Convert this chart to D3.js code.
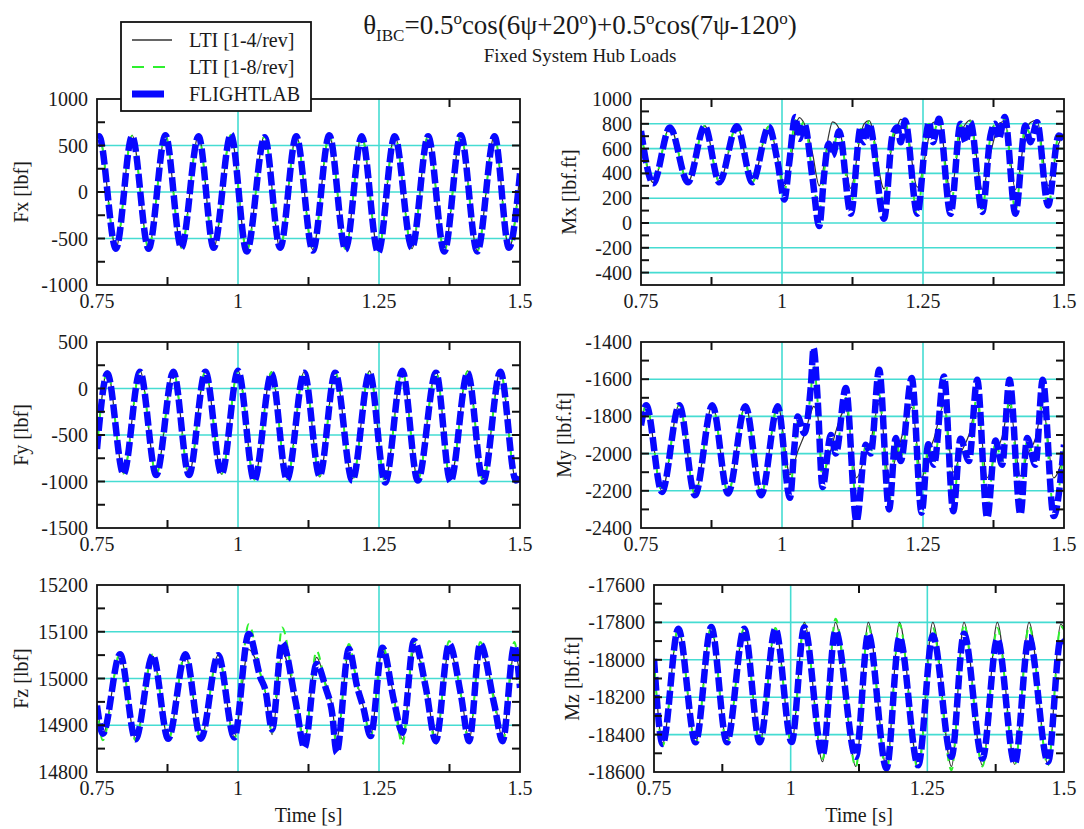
<!DOCTYPE html>
<html><head><meta charset="utf-8">
<script src="https://cdn.jsdelivr.net/npm/d3@7"></script>
<style>
html,body{margin:0;padding:0;background:#fff;}
text{font-family:"Liberation Serif","Times New Roman",serif;fill:#1a1a1a;}
</style></head>
<body>
<svg id="chart" width="1084" height="829"></svg>
<script>
// ---------------- DATA ----------------
const seriesNames = ["LTI [1-4/rev]", "LTI [1-8/rev]", "FLIGHTLAB"];
const timeTicks = [0.75, 1, 1.25, 1.5];
const timeGrid = [1, 1.25];
const timeMinor = [0.875, 1.125, 1.375];

// Fx
const fxTime = [0.75, 0.7536, 0.7836, 0.8122, 0.8415, 0.8714, 0.8995, 0.9300, 0.9569, 0.9874, 1.0155, 1.0472, 1.0747, 1.1033, 1.1326, 1.1619, 1.1906, 1.2193, 1.2486, 1.2779, 1.3084, 1.3371, 1.3658, 1.3950, 1.4243, 1.4548, 1.4805, 1.5];
const fxFlightlab = [580, 600, -610, 600, -610, 610, -600, 600, -600, 620, -640, 590, -600, 600, -630, 610, -620, 600, -650, 600, -600, 600, -640, 610, -640, 600, -600, 200];
const fxLti4 = [590, 610, -600, 610, -600, 610, -600, 610, -600, 610, -620, 610, -610, 610, -620, 615, -610, 610, -630, 610, -610, 610, -630, 615, -630, 610, -610, 210];
const fxLti8 = [585, 605, -605, 605, -605, 610, -600, 605, -600, 615, -630, 600, -605, 605, -625, 610, -615, 605, -640, 605, -605, 605, -635, 610, -635, 605, -605, 205];
const fxTicks = [-1000, -500, 0, 500, 1000];
const fxMinor = [-750, -250, 250, 750];

// Fy
const fyTime = [0.75, 0.7683, 0.797, 0.8263, 0.855, 0.8855, 0.913, 0.9422, 0.9709, 1.0002, 1.0289, 1.0594, 1.0869, 1.1174, 1.1448, 1.1723, 1.2028, 1.2333, 1.2608, 1.2913, 1.3188, 1.3511, 1.3767, 1.4072, 1.4347, 1.4652, 1.4927, 1.5];
const fyFlightlab = [-650, 160, -920, 180, -930, 180, -930, 180, -920, 190, -990, 160, -980, 170, -940, 170, -990, 170, -1010, 190, -990, 170, -1000, 170, -1000, 180, -990, -960];
const fyLti4 = [-640, 190, -910, 190, -920, 190, -920, 190, -920, 190, -970, 180, -960, 180, -950, 180, -970, 190, -980, 190, -970, 190, -980, 190, -980, 190, -975, -940];
const fyLti8 = [-645, 185, -915, 185, -925, 185, -925, 185, -920, 195, -980, 175, -975, 180, -940, 175, -985, 185, -1000, 195, -985, 185, -990, 185, -990, 190, -985, -950];
const fyTicks = [-1500, -1000, -500, 0, 500];
const fyMinor = [-1250, -750, -250, 250];

// Fz
const fzTime = [0.75, 0.7604, 0.7909, 0.8183, 0.8489, 0.8763, 0.9068, 0.9343, 0.9648, 0.9935, 1.0189, 1.0397, 1.0486, 1.0604, 1.0782, 1.1019, 1.1179, 1.1392, 1.1552, 1.1671, 1.1747, 1.1966, 1.2115, 1.2222, 1.2352, 1.2560, 1.2766, 1.2915, 1.3122, 1.3329, 1.3507, 1.3743, 1.3951, 1.4099, 1.4294, 1.4543, 1.4692, 1.4899, 1.5];
const fzFlightlab = [14942, 14882, 15052, 14870, 15050, 14871, 15052, 14871, 15050, 14874, 15095, 15002, 14975, 14891, 15077, 14952, 14852, 15031, 14981, 14924, 14841, 15063, 14981, 14938, 14877, 15066, 14952, 14884, 15081, 14981, 14866, 15074, 14966, 14866, 15074, 14945, 14866, 15070, 14980];
const fzLti4 = [14945, 14880, 15050, 14872, 15048, 14872, 15050, 14872, 15050, 14875, 15062, 15010, 14970, 14880, 15056, 14960, 14870, 15045, 14990, 14940, 14870, 15055, 14990, 14940, 14880, 15060, 14960, 14870, 15060, 14990, 14870, 15060, 14970, 14870, 15060, 14960, 14870, 15055, 15010];
const fzLti8 = [14940, 14868, 15055, 14868, 15052, 14868, 15055, 14868, 15052, 14870, 15116, 15010, 14970, 14885, 15109, 14955, 14866, 15059, 14985, 14930, 14855, 15074, 14985, 14940, 14875, 15070, 14955, 14859, 15080, 14985, 14860, 15080, 14965, 14860, 15078, 14950, 14860, 15078, 14985];
const fzTicks = [14800, 14900, 15000, 15100, 15200];
const fzMinor = [14850, 14950, 15050, 15150];

// Mx
const mxTime = [0.75, 0.7716, 0.8012, 0.8333, 0.863, 0.8889, 0.9198, 0.9475, 0.9765, 0.9923, 1.0041, 1.0130, 1.0236, 1.0307, 1.0395, 1.0542, 1.0660, 1.0749, 1.0825, 1.0896, 1.1014, 1.1220, 1.1397, 1.1456, 1.1545, 1.1810, 1.1958, 1.2046, 1.2105, 1.2182, 1.2400, 1.2547, 1.2606, 1.2677, 1.2783, 1.2989, 1.3166, 1.3255, 1.3343, 1.3550, 1.3697, 1.3774, 1.3844, 1.3950, 1.4139, 1.4316, 1.4404, 1.4522, 1.4717, 1.4906, 1.5];
const mxFlightlab = [741, 320, 770, 328, 781, 328, 781, 328, 775, 491, 190, 491, 854, 679, 800, 357, -25, 400, 640, 545, 740, 75, 773, 652, 800, 35, 706, 773, 652, 827, 75, 679, 813, 652, 840, 75, 800, 652, 813, 89, 706, 800, 680, 854, 75, 787, 652, 813, 142, 706, 679];
const mxLti4 = [745, 325, 775, 330, 785, 330, 785, 330, 780, 520, 300, 420, 760, 850, 800, 560, 300, 480, 700, 815, 760, 280, 720, 800, 826, 276, 640, 780, 835, 820, 290, 560, 700, 810, 820, 250, 720, 800, 830, 270, 560, 700, 800, 820, 270, 720, 810, 830, 300, 640, 720];
const mxLti8 = [745, 322, 772, 330, 783, 330, 783, 330, 778, 500, 260, 470, 830, 760, 820, 380, 100, 420, 650, 600, 760, 150, 760, 720, 820, 169, 690, 780, 720, 830, 60, 680, 800, 720, 830, 120, 790, 720, 820, 110, 700, 790, 740, 840, 100, 780, 720, 820, 130, 700, 690];
const mxTicks = [-400, -200, 0, 200, 400, 600, 800, 1000];
const mxMinor = [-300, -100, 100, 300, 500, 700, 900];

// My
const myTime = [0.75, 0.7593, 0.787, 0.8179, 0.8457, 0.8765, 0.9043, 0.9352, 0.963, 0.9926, 1.0142, 1.0218, 1.0277, 1.0395, 1.0513, 1.0560, 1.0631, 1.0719, 1.0867, 1.0955, 1.1132, 1.1321, 1.1486, 1.1574, 1.1722, 1.1899, 1.2017, 1.2105, 1.2300, 1.2476, 1.2594, 1.2694, 1.2871, 1.3037, 1.3166, 1.3314, 1.3461, 1.3638, 1.3785, 1.3903, 1.4033, 1.4228, 1.4346, 1.4493, 1.4623, 1.4817, 1.5];
const myFlightlab = [-1848, -1740, -2206, -1740, -2224, -1740, -2215, -1745, -2224, -1745, -2238, -1970, -1800, -1890, -1630, -1433, -1701, -2180, -1900, -2000, -1647, -2363, -1952, -2000, -1549, -2300, -1916, -2040, -1594, -2318, -1950, -2060, -1585, -2310, -1920, -2040, -1603, -2345, -1930, -2060, -1603, -2327, -1916, -2060, -1603, -2336, -1952];
const myLti4 = [-1845, -1735, -2200, -1735, -2215, -1738, -2210, -1740, -2215, -1742, -2113, -2050, -1990, -1900, -1780, -1746, -1790, -2110, -1980, -1880, -1760, -2130, -2000, -1930, -1730, -2130, -2020, -1930, -1750, -2130, -2000, -1920, -1740, -2100, -2000, -1900, -1740, -2130, -2000, -1910, -1740, -2120, -2010, -1920, -1750, -2130, -2000];
const myLti8 = [-1846, -1738, -2203, -1738, -2220, -1740, -2212, -1742, -2220, -1744, -2200, -1990, -1830, -1880, -1660, -1522, -1720, -2150, -1920, -1980, -1700, -2250, -1960, -1990, -1680, -2270, -1930, -2020, -1680, -2290, -1960, -2040, -1700, -2280, -1930, -2020, -1680, -2320, -1940, -2040, -1700, -2260, -1930, -2040, -1690, -2300, -1960];
const myTicks = [-2400, -2200, -2000, -1800, -1600, -1400];
const myMinor = [-2300, -2100, -1900, -1700, -1500];

// Mz
const mzTime = [0.75, 0.7659, 0.7944, 0.8261, 0.8547, 0.8833, 0.915, 0.9435, 0.9721, 1.0017, 1.0250, 1.0584, 1.0820, 1.1193, 1.1420, 1.1754, 1.1990, 1.2332, 1.2600, 1.2942, 1.3170, 1.3509, 1.3780, 1.4100, 1.4360, 1.4708, 1.4940, 1.5];
const mzFlightlab = [-17995, -18450, -17834, -18441, -17825, -18441, -17834, -18441, -17834, -18440, -17826, -18510, -17844, -18519, -17861, -18581, -17879, -18564, -17870, -18519, -17861, -18528, -17888, -18555, -17879, -18546, -17888, -17915];
const mzLti4 = [-17990, -18445, -17830, -18440, -17825, -18440, -17830, -18440, -17830, -18445, -17800, -18545, -17800, -18570, -17800, -18575, -17800, -18575, -17800, -18570, -17800, -18565, -17800, -18560, -17800, -18560, -17810, -17830];
const mzLti8 = [-17995, -18460, -17830, -18450, -17825, -18450, -17830, -18450, -17830, -18450, -17810, -18530, -17781, -18572, -17820, -18600, -17810, -18590, -17830, -18590, -17810, -18570, -17830, -18560, -17820, -18565, -17820, -17840];
const mzTicks = [-18600, -18400, -18200, -18000, -17800, -17600];
const mzMinor = [-18500, -18300, -18100, -17900, -17700];

// ---------------- LAYOUT ----------------
const panels = [
  {label:"Fx [lbf]", t:fxTime, s:[fxLti4, fxLti8, fxFlightlab], ticks:fxTicks, minor:fxMinor, box:[97,99,520,285], lx:28, xlab:false},
  {label:"Fy [lbf]", t:fyTime, s:[fyLti4, fyLti8, fyFlightlab], ticks:fyTicks, minor:fyMinor, box:[97,342,520,528], lx:28, xlab:false},
  {label:"Fz [lbf]", t:fzTime, s:[fzLti4, fzLti8, fzFlightlab], ticks:fzTicks, minor:fzMinor, box:[97,585,520,772], lx:28, xlab:true},
  {label:"Mx [lbf.ft]", t:mxTime, s:[mxLti4, mxLti8, mxFlightlab], ticks:mxTicks, minor:mxMinor, box:[641,99,1064,285], lx:576, xlab:false, domain:[-500,1000]},
  {label:"My [lbf.ft]", t:myTime, s:[myLti4, myLti8, myFlightlab], ticks:myTicks, minor:myMinor, box:[641,342,1064,528], lx:571, xlab:false},
  {label:"Mz [lbf.ft]", t:mzTime, s:[mzLti4, mzLti8, mzFlightlab], ticks:mzTicks, minor:mzMinor, box:[654,585,1064,772], lx:579, xlab:true}
];
const styles = [
  {stroke:"#333", width:1.2, dash:null},
  {stroke:"#2ef02e", width:2, dash:"8,6"},
  {stroke:"#0808ff", width:6.5, dash:"14,4"}
];
const gridColor = "#45dcd2";
const FS = 20;

const svg = d3.select("#chart");
svg.append("rect").attr("width",1084).attr("height",829).attr("fill","#fff");

panels.forEach((p, i) => {
  const [x0,y0,x1,y1] = p.box;
  const dom = p.domain || d3.extent(p.ticks);
  const x = d3.scaleLinear().domain([0.75,1.5]).range([x0,x1]);
  const y = d3.scaleLinear().domain(dom).range([y1,y0]);
  const g = svg.append("g");
  const clipId = "clip"+i;
  g.append("clipPath").attr("id",clipId).append("rect")
    .attr("x",x0).attr("y",y0).attr("width",x1-x0).attr("height",y1-y0);

  const hg = p.ticks.filter(v => v>dom[0] && v<dom[1]);
  g.selectAll(null).data(hg).enter().append("line")
    .attr("x1",x0).attr("x2",x1).attr("y1",d=>y(d)).attr("y2",d=>y(d))
    .attr("stroke",gridColor).attr("stroke-width",1.6);
  g.selectAll(null).data(timeGrid).enter().append("line")
    .attr("y1",y0).attr("y2",y1).attr("x1",d=>x(d)).attr("x2",d=>x(d))
    .attr("stroke",gridColor).attr("stroke-width",1.6);

  const lg = g.append("g").attr("clip-path","url(#"+clipId+")");
  p.s.forEach((vals, k) => {
    const pts = p.t.map((tt,j)=>[tt, vals[j]]);
    const line = d3.line().x(d=>x(d[0])).y(d=>y(d[1])).curve(d3.curveMonotoneX);
    const st = styles[k];
    lg.append("path").attr("d", line(pts)).attr("fill","none")
      .attr("stroke",st.stroke).attr("stroke-width",st.width)
      .attr("stroke-dasharray",st.dash).attr("stroke-linejoin","round");
  });

  const tl = 8;
  const yt = p.ticks.concat(p.minor).filter(v => v>dom[0] && v<dom[1]);
  yt.forEach(v => {
    g.append("line").attr("x1",x0).attr("x2",x0+tl).attr("y1",y(v)).attr("y2",y(v)).attr("stroke","#111").attr("stroke-width",2);
    g.append("line").attr("x1",x1).attr("x2",x1-tl).attr("y1",y(v)).attr("y2",y(v)).attr("stroke","#111").attr("stroke-width",2);
  });
  timeMinor.forEach(v => {
    g.append("line").attr("x1",x(v)).attr("x2",x(v)).attr("y1",y0).attr("y2",y0+tl).attr("stroke","#111").attr("stroke-width",2);
    g.append("line").attr("x1",x(v)).attr("x2",x(v)).attr("y1",y1).attr("y2",y1-tl).attr("stroke","#111").attr("stroke-width",2);
  });

  g.append("rect").attr("x",x0).attr("y",y0).attr("width",x1-x0).attr("height",y1-y0)
    .attr("fill","none").attr("stroke","#111").attr("stroke-width",1.8);

  g.selectAll(null).data(p.ticks).enter().append("text")
    .attr("x",x0-9).attr("y",d=>y(d)+7).attr("text-anchor","end")
    .attr("font-size",FS).text(d=>d);
  g.selectAll(null).data(timeTicks).enter().append("text")
    .attr("x",d=>x(d)).attr("y",y1+23).attr("text-anchor","middle")
    .attr("font-size",FS).text(d=>d);
  g.append("text").attr("transform","translate("+p.lx+","+((y0+y1)/2)+") rotate(-90)")
    .attr("text-anchor","middle").attr("font-size",FS).text(p.label);
  if (p.xlab) {
    g.append("text").attr("x",(x0+x1)/2).attr("y",822).attr("text-anchor","middle")
      .attr("font-size",FS).text("Time [s]");
  }
});

// title
const title = svg.append("text").attr("x",580).attr("y",34).attr("text-anchor","middle").attr("font-size",27);
const parts = [["θ",0,27],["IBC",7,17],["=0.5",-7,27],["o",-10,17],["cos(6ψ+20",10,27],["o",-10,17],[")+0.5",10,27],["o",-10,17],["cos(7ψ-120",10,27],["o",-10,17],[")",10,27]];
parts.forEach(([txt,dy,fs]) => title.append("tspan").attr("dy",dy).attr("font-size",fs).text(txt));
svg.append("text").attr("x",580).attr("y",62).attr("text-anchor","middle").attr("font-size",19).text("Fixed System Hub Loads");

// legend
const lgd = svg.append("g");
lgd.append("rect").attr("x",121).attr("y",22).attr("width",190).attr("height",89)
  .attr("fill","#fff").attr("stroke","#111").attr("stroke-width",1.8);
const legY = [40, 67, 94];
seriesNames.forEach((n, k) => {
  if (k < 2) {
    lgd.append("line").attr("x1",132).attr("x2",172).attr("y1",legY[k]).attr("y2",legY[k])
      .attr("stroke",styles[k].stroke).attr("stroke-width",k===0?1.6:2.2)
      .attr("stroke-dasharray",k===1?"12,9":null);
  } else {
    lgd.append("rect").attr("x",132).attr("y",legY[k]-3.5).attr("width",32).attr("height",7).attr("fill",styles[k].stroke);
  }
  lgd.append("text").attr("x",189).attr("y",legY[k]+7).attr("font-size",FS).text(n);
});
</script>
</body></html>
